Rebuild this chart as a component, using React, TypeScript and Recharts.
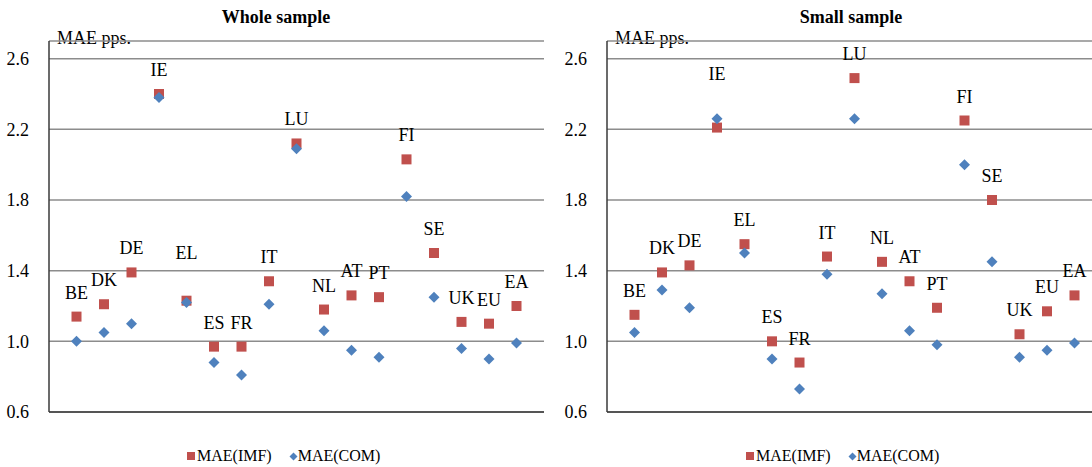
import { ScatterChart, Scatter, XAxis, YAxis, CartesianGrid, ReferenceLine } from 'recharts'

// country codes, left to right
const countries = ['BE', 'DK', 'DE', 'IE', 'EL', 'ES', 'FR', 'IT', 'LU', 'NL', 'AT', 'PT', 'FI', 'SE', 'UK', 'EU', 'EA']

// Whole sample
const wholeImf = [1.14, 1.21, 1.39, 2.4, 1.23, 0.97, 0.97, 1.34, 2.12, 1.18, 1.26, 1.25, 2.03, 1.5, 1.11, 1.1, 1.2]
const wholeCom = [1.0, 1.05, 1.1, 2.38, 1.22, 0.88, 0.81, 1.21, 2.09, 1.06, 0.95, 0.91, 1.82, 1.25, 0.96, 0.9, 0.99]

// Small sample
const smallImf = [1.15, 1.39, 1.43, 2.21, 1.55, 1.0, 0.88, 1.48, 2.49, 1.45, 1.34, 1.19, 2.25, 1.8, 1.04, 1.17, 1.26]
const smallCom = [1.05, 1.29, 1.19, 2.26, 1.5, 0.9, 0.73, 1.38, 2.26, 1.27, 1.06, 0.98, 2.0, 1.45, 0.91, 0.95, 0.99]

const yTicks = [0.6, 1.0, 1.4, 1.8, 2.2, 2.6]
const seriesNames = ['MAE(IMF)', 'MAE(COM)']

const FONT = "'Liberation Serif', Tinos, 'Times New Roman', 'DejaVu Serif', serif"
const RED = '#C0504D'
const BLUE = '#4F81BD'
const GRID = '#8c8c8c'
const AXIS = '#3a3a3a'

const toPoints = (values: number[]) =>
  countries.map((country, i) => ({ x: i + 1, y: values[i], country }))

// square marker that also carries the country label above it
function labelledSquare(lift: Record<string, number>) {
  return (props: any) => {
    const { cx, cy, payload } = props
    const extra = lift[payload.country] ?? 0
    return (
      <g>
        <rect x={cx - 5} y={cy - 5} width={10} height={10} fill={RED} />
        <text
          x={cx}
          y={cy - 24 - extra}
          textAnchor="middle"
          dominantBaseline="central"
          style={{ fontFamily: FONT }}
          fontSize={18}
          fill="#000"
        >
          {payload.country}
        </text>
      </g>
    )
  }
}

const diamond = (props: any) => {
  const { cx, cy } = props
  const r = 5.5
  return <path d={`M${cx},${cy - r}L${cx + r},${cy}L${cx},${cy + r}L${cx - r},${cy}Z`} fill={BLUE} />
}

interface PanelProps {
  title: string
  imf: number[]
  com: number[]
  left: number
  width: number
  axisWidth: number
  titleCenter: number
  legendLeft: number
  diamondGap: number
  lift: Record<string, number>
}

function Panel({ title, imf, com, left, width, axisWidth, titleCenter, legendLeft, diamondGap, lift }: PanelProps) {
  const plotWidth = 495
  return (
    <div style={{ position: 'absolute', left, top: 0, width, height: 467, fontFamily: FONT }}>
      <div
        style={{
          position: 'absolute',
          left: titleCenter - left - 150,
          width: 300,
          top: 7,
          textAlign: 'center',
          fontWeight: 'bold',
          fontSize: 18,
          lineHeight: '20px',
        }}
      >
        {title}
      </div>
      <div
        style={{
          position: 'absolute',
          left: axisWidth + 8,
          top: 29,
          fontSize: 18,
          lineHeight: '18px',
          whiteSpace: 'nowrap',
        }}
      >
        MAE pps.
      </div>
      <ScatterChart
        width={width}
        height={467}
        margin={{ top: 41, left: 0, right: width - axisWidth - plotWidth, bottom: 55 }}
      >
        <CartesianGrid vertical={false} stroke={GRID} strokeWidth={1.5} />
        <XAxis type="number" dataKey="x" domain={[0, 18]} hide />
        <YAxis
          type="number"
          dataKey="y"
          domain={[0.6, 2.7]}
          ticks={yTicks}
          width={axisWidth}
          tickFormatter={(v) => Number(v).toFixed(1)}
          tickLine={false}
          tickMargin={14}
          axisLine={{ stroke: AXIS, strokeWidth: 1.5 }}
          tick={{ fill: '#000', fontSize: 18, style: { fontFamily: FONT } }}
          interval={0}
        />
        <ReferenceLine y={0.6} stroke={AXIS} strokeWidth={1.5} />
        <Scatter name={seriesNames[0]} data={toPoints(imf)} shape={labelledSquare(lift)} isAnimationActive={false} />
        <Scatter name={seriesNames[1]} data={toPoints(com)} shape={diamond} isAnimationActive={false} />
      </ScatterChart>
      <div
        style={{
          position: 'absolute',
          left: legendLeft - left,
          top: 447,
          display: 'flex',
          alignItems: 'center',
          fontSize: 16,
          lineHeight: '18px',
          whiteSpace: 'nowrap',
        }}
      >
        <span style={{ width: 8, height: 8, background: RED, display: 'inline-block', marginRight: 2 }} />
        <span>{seriesNames[0]}</span>
        <svg width={9} height={9} style={{ marginLeft: diamondGap, marginRight: 0 }}>
          <path d="M4.5,0.5L8.5,4.5L4.5,8.5L0.5,4.5Z" fill={BLUE} />
        </svg>
        <span>{seriesNames[1]}</span>
      </div>
    </div>
  )
}

export default function App() {
  return (
    <div
      style={{
        position: 'absolute',
        left: 0,
        top: 0,
        width: 1092,
        height: 467,
        overflow: 'hidden',
        background: '#fff',
      }}
    >
      <Panel
        title="Whole sample"
        imf={wholeImf}
        com={wholeCom}
        left={0}
        width={546}
        axisWidth={49}
        titleCenter={276}
        legendLeft={187}
        diamondGap={17}
        lift={{ EL: 24 }}
      />
      <Panel
        title="Small sample"
        imf={smallImf}
        com={smallCom}
        left={546}
        width={560}
        axisWidth={61}
        titleCenter={851}
        legendLeft={746}
        diamondGap={17}
        lift={{ IE: 30 }}
      />
    </div>
  )
}
